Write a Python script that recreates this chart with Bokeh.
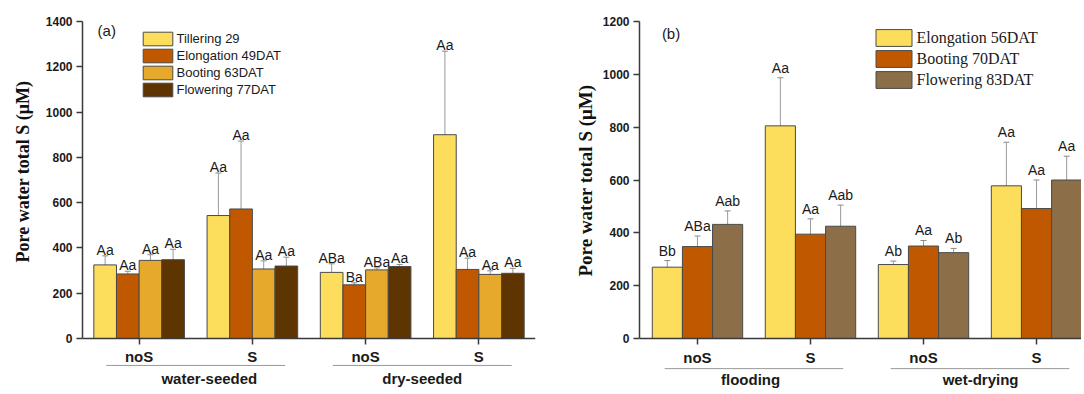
from bokeh.plotting import figure
from bokeh.models import ColumnDataSource, Whisker, TeeHead, FixedTicker, Label, Title
from bokeh.layouts import row
from bokeh.embed import file_html
from bokeh.resources import INLINE
from bokeh.core.properties import value

# ---------------- data: panel (a) ----------------
a_ticks = ["noS", "S", "noS", "S"]
a_groups = ["water-seeded", "dry-seeded"]
a_series = ["Tillering 29", "Elongation 49DAT", "Booting 63DAT", "Flowering 77DAT"]
a_tillering = [325, 543, 292, 900]
a_tillering_se = [40, 188, 38, 369]
a_tillering_lab = ["Aa", "Aa", "ABa", "Aa"]
a_elongation = [285, 572, 237, 305]
a_elongation_se = [12, 300, 9, 50]
a_elongation_lab = ["Aa", "Aa", "Ba", "Aa"]
a_booting = [345, 307, 303, 283]
a_booting_se = [25, 36, 9, 16]
a_booting_lab = ["Aa", "Aa", "ABa", "Aa"]
a_flowering = [348, 320, 318, 288]
a_flowering_se = [46, 39, 9, 22]
a_flowering_lab = ["Aa", "Aa", "Aa", "Aa"]
a_colors = ["#FDDD5C", "#C05800", "#E6A92C", "#5E3500"]

# ---------------- data: panel (b) ----------------
b_ticks = ["noS", "S", "noS", "S"]
b_groups = ["flooding", "wet-drying"]
b_series = ["Elongation 56DAT", "Booting 70DAT", "Flowering 83DAT"]
b_elongation = [270, 805, 280, 578]
b_elongation_se = [25, 182, 13, 165]
b_elongation_lab = ["Bb", "Aa", "Ab", "Aa"]
b_booting = [348, 395, 350, 492]
b_booting_se = [40, 58, 21, 108]
b_booting_lab = ["ABa", "Aa", "Aa", "Aa"]
b_flowering = [432, 425, 325, 600]
b_flowering_se = [51, 80, 16, 90]
b_flowering_lab = ["Aab", "Aab", "Ab", "Aa"]
b_colors = ["#FDDD5C", "#C05800", "#8C6E48"]

Y_TITLE = "Pore water total S (\u03bcM)"
AXIS_COLOR = "#3a3a3a"
SANS = "Liberation Sans"
SERIF = "Liberation Serif"


def make_panel(width, x_range, y_range, ymax, border_l, border_r, ticks, groups,
               series, means, ses, labs, colors, tag, tag_xy, label_gap,
               group_label_x, group_line_half, group_line_y, group_label_y,
               legend_loc, legend_font, legend_size, glyph_w, glyph_h,
               ytitle_offset, ytitle_standoff, ytitle_size):
    p = figure(width=width, height=391, x_range=x_range, y_range=y_range,
               min_border_left=border_l, min_border_right=border_r,
               min_border_top=21, min_border_bottom=0,
               output_backend="svg", toolbar_location=None)
    p.xgrid.visible = False
    p.ygrid.visible = False
    p.outline_line_color = None
    p.background_fill_color = "white"

    n = len(series)
    total = 0.8
    bw = total / n
    centers = list(range(1, len(ticks) + 1))
    for i in range(n):
        off = -total / 2 + bw * (i + 0.5)
        xs = [c + off for c in centers]
        src = ColumnDataSource(dict(
            x=xs, top=means[i],
            lower=[m - s for m, s in zip(means[i], ses[i])],
            upper=[m + s for m, s in zip(means[i], ses[i])],
            lab=labs[i]))
        p.vbar(x="x", top="top", bottom=0, width=bw, source=src,
               fill_color=colors[i], line_color="#4a4a4a", line_width=1,
               legend_label=series[i])
        p.add_layout(Whisker(source=src, base="x", upper="upper", lower="lower",
                             line_color="#9a9a9a", line_width=1,
                             upper_head=TeeHead(size=6, line_color="#8a8a8a", line_width=1),
                             lower_head=TeeHead(size=6, line_color="#8a8a8a", line_width=1)))
        p.text(x="x", y="upper", text="lab", source=src, text_align="center",
               text_baseline="alphabetic", y_offset=-label_gap,
               text_font=value(SANS), text_font_size="14px", text_color="#1a1a1a")

    # x axis at y = 0
    xa = p.xaxis[0]
    xa.fixed_location = 0
    xa.ticker = FixedTicker(ticks=centers)
    xa.major_label_overrides = {c: t for c, t in zip(centers, ticks)}
    xa.minor_tick_line_color = None
    xa.major_tick_in = 0
    xa.major_tick_out = 6
    xa.axis_line_color = AXIS_COLOR
    xa.axis_line_width = 1.5
    xa.major_tick_line_color = AXIS_COLOR
    xa.major_tick_line_width = 1.5
    xa.major_label_text_font = SANS
    xa.major_label_text_font_style = "bold"
    xa.major_label_text_font_size = "15px"
    xa.major_label_text_color = "#1a1a1a"
    xa.major_label_standoff = 4

    ya = p.yaxis[0]
    ya.bounds = (0, ymax)
    ya.ticker = FixedTicker(ticks=list(range(0, ymax + 1, 200)))
    ya.minor_tick_line_color = None
    ya.major_tick_in = 0
    ya.major_tick_out = 6
    ya.axis_line_color = AXIS_COLOR
    ya.axis_line_width = 1.5
    ya.major_tick_line_color = AXIS_COLOR
    ya.major_tick_line_width = 1.5
    ya.major_label_text_font = SANS
    ya.major_label_text_font_style = "bold"
    ya.major_label_text_font_size = "12px"
    ya.major_label_text_color = "#1a1a1a"
    ya.major_label_standoff = 4

    # y-axis title (a left-side Title, so it can sit off the frame centre)
    p.add_layout(Title(text=Y_TITLE, align="left", offset=ytitle_offset,
                       standoff=ytitle_standoff, text_font=SERIF,
                       text_font_style="bold", text_font_size=ytitle_size,
                       text_color="#111111"), "left")

    # group lines and labels below the axis
    gcs = [1.5, 3.5]
    p.segment(x0=[g - group_line_half for g in gcs], x1=[g + group_line_half for g in gcs],
              y0=[group_line_y] * 2, y1=[group_line_y] * 2,
              line_color="#9a9a9a", line_width=1)
    p.text(x=group_label_x, y=[group_label_y] * 2, text=groups, text_align="center",
           text_baseline="middle", text_font=value(SANS), text_font_style="bold",
           text_font_size="15px", text_color="#1a1a1a")

    p.add_layout(Label(x=tag_xy[0], y=tag_xy[1], text=tag, text_font=SANS,
                       text_font_size="15px", text_baseline="top", text_color="#1a1a1a"))

    lg = p.legend[0]
    lg.location = legend_loc
    lg.padding = 0
    lg.margin = 0
    lg.spacing = 0
    lg.glyph_width = glyph_w
    lg.glyph_height = glyph_h
    lg.label_height = glyph_h
    lg.label_standoff = 1
    lg.border_line_color = None
    lg.background_fill_alpha = 0
    lg.label_text_font = legend_font
    lg.label_text_font_size = legend_size
    lg.label_text_color = "#1a1a1a"
    return p


pa = make_panel(567, (0.5, 4.5), (-234.1, 1400), 1400, 82, 32, a_ticks, a_groups,
                a_series,
                [a_tillering, a_elongation, a_booting, a_flowering],
                [a_tillering_se, a_elongation_se, a_booting_se, a_flowering_se],
                [a_tillering_lab, a_elongation_lab, a_booting_lab, a_flowering_lab],
                a_colors, "(a)", (0.633, 1400), 6,
                [1.62, 3.5], 0.79, -119, -177,
                (56.5, 292.7), SANS, "13px", 37, 17,
                129, 20, "18px")

pb = make_panel(514, (0.487, 4.398), (-200.6, 1200), 1200, 72, 0, b_ticks, b_groups,
                b_series,
                [b_elongation, b_booting, b_flowering],
                [b_elongation_se, b_booting_se, b_flowering_se],
                [b_elongation_lab, b_booting_lab, b_flowering_lab],
                b_colors, "(b)", (0.685, 1188), 10,
                [1.47, 3.505], 0.79, -114, -155,
                (231.5, 301), SERIF, "16px", 45, 21,
                115, 7, "19px")

layout = row(pa, pb)
open("out.html", "w").write(file_html(layout, INLINE))
